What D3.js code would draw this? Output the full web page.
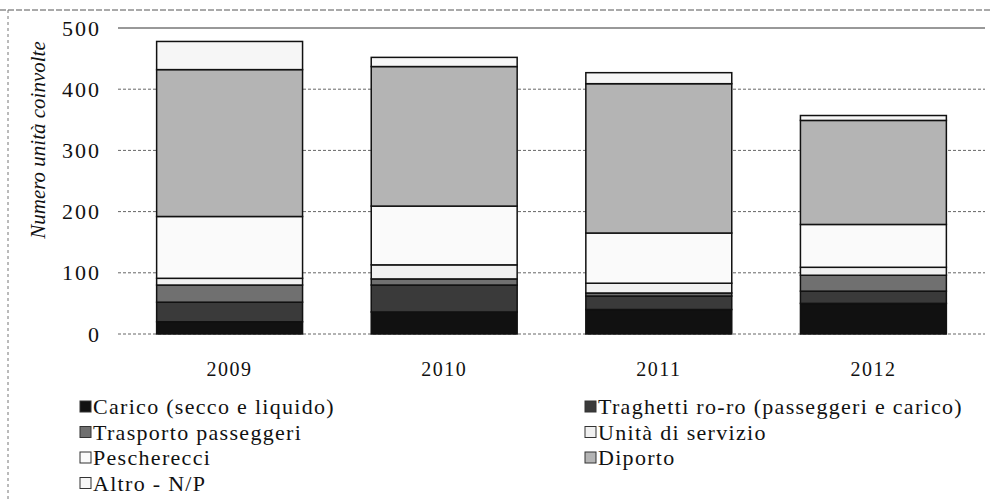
<!DOCTYPE html>
<html>
<head>
<meta charset="utf-8">
<script src="https://cdn.jsdelivr.net/npm/d3@7"></script>
<style>
  body { margin: 0; background: #fff; }
</style>
</head>
<body>
<svg id="chart" width="990" height="502"></svg>
<script>
// data (bottom to top of each bar)
var years = ["2009", "2010", "2011", "2012"];
var series = ["Carico (secco e liquido)", "Traghetti ro-ro (passeggeri e carico)",
    "Trasporto passeggeri", "Unità di servizio", "Pescherecci", "Diporto", "Altro - N/P"];
var carico     = [20, 36, 40, 50];
var traghetti  = [32, 44, 22, 20];
var trasporto  = [28, 10, 5, 26];
var servizio   = [11, 23, 16, 13];
var pescherecci = [101, 96, 82, 70];
var diporto    = [240, 228, 244, 170];
var altro      = [46, 15, 18, 8];
var yTicks = [0, 100, 200, 300, 400, 500];

var serif = "'Liberation Serif', 'Times New Roman', 'DejaVu Serif', serif";
var colors = ["#111", "#3a3a3a", "#707070", "#f0f0f0", "#fafafa", "#b4b4b4", "#f6f6f6"];

var rows = years.map(function(y, i) {
    return {year: y, s0: carico[i], s1: traghetti[i], s2: trasporto[i], s3: servizio[i],
        s4: pescherecci[i], s5: diporto[i], s6: altro[i]};
});
var keys = ["s0", "s1", "s2", "s3", "s4", "s5", "s6"];
var stacked = d3.stack().keys(keys)(rows);

var svg = d3.select("#chart");

// scanned page frame
svg.append("line").attr("x1", 0).attr("x2", 990).attr("y1", 10).attr("y2", 10)
    .attr("stroke", "#555").attr("stroke-width", 1).attr("stroke-dasharray", "6,2");
svg.append("line").attr("x1", 8).attr("x2", 8).attr("y1", 10).attr("y2", 502)
    .attr("stroke", "#777").attr("stroke-width", 1).attr("stroke-dasharray", "3,3");

var x = d3.scaleBand().domain(years).range([118, 985]).paddingInner(0.32).paddingOuter(0.18);
var y = d3.scaleLinear().domain([0, 500]).range([334, 28]);

// gridlines
svg.append("g").selectAll("line").data(yTicks).enter().append("line")
    .attr("x1", 118).attr("x2", 985)
    .attr("y1", function(d) { return y(d); }).attr("y2", function(d) { return y(d); })
    .attr("stroke", function(d) { return d == 500 ? "#333" : "#666"; })
    .attr("stroke-width", 1)
    .attr("stroke-dasharray", function(d) { return d == 500 ? null : "3,2"; });

// y axis labels
var yAxis = d3.axisLeft(y).tickValues(yTicks).tickSize(0).tickPadding(0);
var ga = svg.append("g").attr("transform", "translate(101,0)").call(yAxis);
ga.select(".domain").remove();
ga.selectAll("text")
    .style("font-family", serif)
    .style("font-size", "22px")
    .style("letter-spacing", "2px")
    .attr("fill", "#111");

svg.append("text")
    .attr("transform", "translate(45,140) rotate(-90)")
    .attr("text-anchor", "middle")
    .style("font-family", serif)
    .style("font-size", "21px")
    .style("font-style", "italic")
    .attr("fill", "#111")
    .text("Numero unità coinvolte");

// bars
svg.append("g").selectAll("g").data(stacked).enter().append("g")
    .attr("fill", function(d, i) { return colors[i]; })
    .selectAll("rect").data(function(d) { return d; }).enter().append("rect")
    .attr("x", function(d) { return x(d.data.year); })
    .attr("width", x.bandwidth())
    .attr("y", function(d) { return y(d[1]); })
    .attr("height", function(d) { return y(d[0]) - y(d[1]); })
    .attr("stroke", "#111")
    .attr("stroke-width", 1.5);

// year labels
svg.append("g").selectAll("text").data(years).enter().append("text")
    .attr("x", function(d) { return x(d) + x.bandwidth() / 2; })
    .attr("y", 376)
    .attr("text-anchor", "middle")
    .style("font-family", serif)
    .style("font-size", "20px")
    .style("letter-spacing", "1.5px")
    .attr("fill", "#111")
    .text(function(d) { return d; });

// legend, two columns
var legend = svg.append("g").selectAll("g").data(series).enter().append("g")
    .attr("transform", function(d, i) {
        return "translate(" + (i % 2 ? 585 : 80) + "," + (407 + Math.floor(i / 2) * 25.5) + ")";
    });
legend.append("rect")
    .attr("x", 0).attr("y", -6).attr("width", 11).attr("height", 11)
    .attr("fill", function(d, i) { return colors[i]; })
    .attr("stroke", "#333").attr("stroke-width", 1);
legend.append("text")
    .attr("x", 13).attr("y", 7)
    .style("font-family", serif)
    .style("font-size", "22px")
    .style("letter-spacing", "1.3px")
    .attr("fill", "#111")
    .text(function(d) { return d; });
</script>
</body>
</html>
